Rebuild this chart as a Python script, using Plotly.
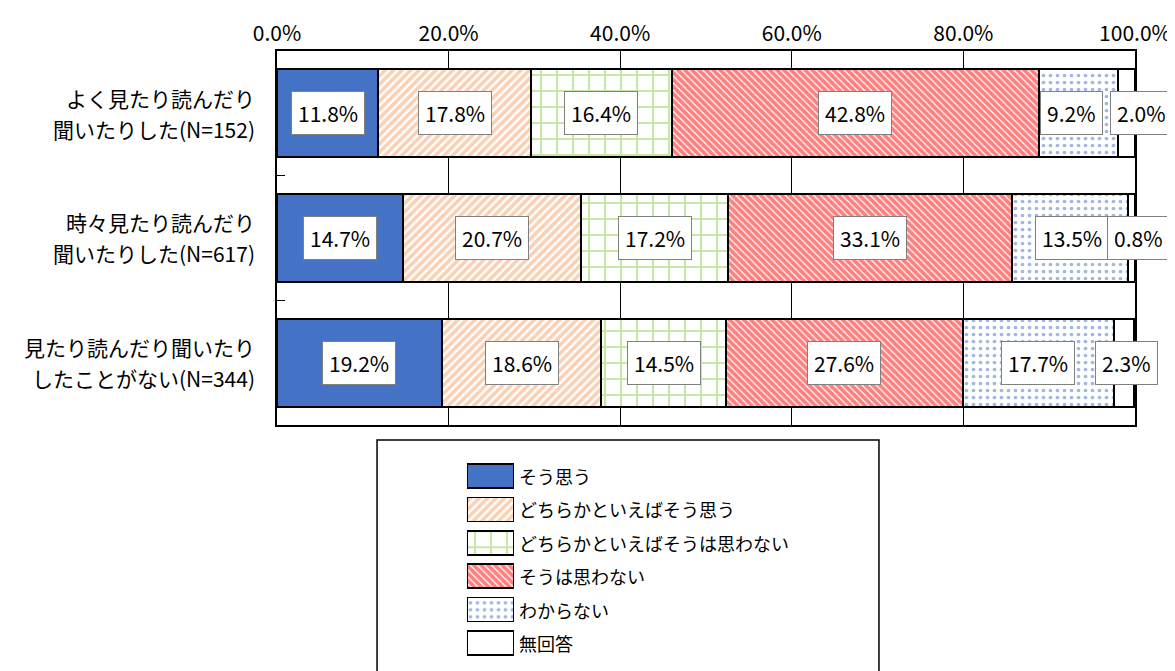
import plotly.graph_objects as go

categories = [
    "よく見たり読んだり<br>聞いたりした(N=152)",
    "時々見たり読んだり<br>聞いたりした(N=617)",
    "見たり読んだり聞いたり<br>したことがない(N=344)",
]
series_names = [
    "そう思う",
    "どちらかといえばそう思う",
    "どちらかといえばそうは思わない",
    "そうは思わない",
    "わからない",
    "無回答",
]
v_sou = [11.8, 14.7, 19.2]
v_dochira_sou = [17.8, 20.7, 18.6]
v_dochira_not = [16.4, 17.2, 14.5]
v_not = [42.8, 33.1, 27.6]
v_wakaranai = [9.2, 13.5, 17.7]
v_mukaito = [2.0, 0.8, 2.3]
tick_vals = [0, 20, 40, 60, 80, 100]
tick_labels = ["0.0%", "20.0%", "40.0%", "60.0%", "80.0%", "100.0%"]

series_values = [v_sou, v_dochira_sou, v_dochira_not, v_not, v_wakaranai, v_mukaito]

FONT = "Noto Sans CJK JP"

styles = [
    dict(color="#4472C4", pattern=None),
    dict(color="white", pattern=dict(shape="/", fgcolor="#F4A26A", bgcolor="white", size=6, solidity=0.6)),
    dict(color="white", pattern=dict(shape="+", fgcolor="#8FD050", bgcolor="white", size=16, solidity=0.25)),
    dict(color="white", pattern=dict(shape="\\", fgcolor="#FF0000", bgcolor="white", size=5, solidity=0.75)),
    dict(color="white", pattern=dict(shape=".", fgcolor="#4472C4", bgcolor="white", size=7, solidity=0.22)),
    dict(color="white", pattern=None),
]

# per-label horizontal nudges (px) for crowded labels, [series][category]
label_shift = [
    [0, 0, 0],
    [0, 0, 0],
    [0, 0, 0],
    [0, 0, 0],
    [-7, 2, 0],
    [15, 7, 2],
]

fig = go.Figure()

for name, vals, st in zip(series_names, series_values, styles):
    marker = dict(color=st["color"], line=dict(color="black", width=2))
    if st["pattern"]:
        marker["pattern"] = st["pattern"]
    fig.add_trace(go.Bar(
        x=vals, y=categories, orientation="h", name=name, marker=marker,
        width=0.705, showlegend=False, xaxis="x", yaxis="y",
    ))
    lm = dict(color=st["color"], line=dict(color="black", width=1.5))
    if st["pattern"]:
        lm["pattern"] = st["pattern"]
    fig.add_trace(go.Bar(
        x=[1], y=[name], orientation="h", name=name, marker=lm,
        width=0.72, showlegend=False, xaxis="x2", yaxis="y2", hoverinfo="skip",
    ))

annotations = []
for si, vals in enumerate(series_values):
    for ci, v in enumerate(vals):
        start = sum(series_values[k][ci] for k in range(si))
        annotations.append(dict(
            x=start + v / 2, y=categories[ci], xref="x", yref="y",
            text=f"{v:.1f}%", showarrow=False, xshift=label_shift[si][ci],
            bgcolor="white", bordercolor="#808080", borderwidth=1, borderpad=6,
            font=dict(family=FONT, size=21, color="black"),
        ))

# category labels, one annotation per line
for cat in categories:
    lines = cat.split("<br>")
    for li, line in enumerate(lines):
        annotations.append(dict(
            x=-0.0233, y=cat, xref="paper", yref="y", xanchor="right",
            text=line, showarrow=False, yshift=15.5 - 31 * li,
            font=dict(family=FONT, size=21, color="black"),
        ))

for name in series_names:
    annotations.append(dict(
        x=0.2797, y=name, xref="paper", yref="y2", xanchor="left",
        text=name, showarrow=False,
        font=dict(family=FONT, size=18, color="black"),
    ))

fig.update_layout(
    width=1167, height=663,
    margin=dict(l=269, r=40, t=43, b=5),
    barmode="stack",
    plot_bgcolor="white", paper_bgcolor="white",
    font=dict(family=FONT, size=20, color="black"),
    xaxis=dict(
        domain=[0, 1], range=[0, 100], side="top",
        tickvals=tick_vals, ticktext=tick_labels,
        showgrid=True, gridcolor="black", gridwidth=1,
        showline=True, linecolor="black", linewidth=2, mirror=True,
        ticks="", zeroline=False, anchor="y",
        tickfont=dict(family=FONT, size=21, color="black"),
    ),
    yaxis=dict(
        domain=[0.3919, 1], autorange="reversed",
        showline=True, linecolor="black", linewidth=2, mirror=True,
        ticks="inside", ticklen=8, tickcolor="black", tickwidth=1,
        tickson="boundaries", showgrid=False, anchor="x",
        showticklabels=False,
    ),
    xaxis2=dict(domain=[0.2214, 0.2762], range=[0, 1], visible=False, anchor="y2"),
    yaxis2=dict(domain=[0.0102, 0.3361], autorange="reversed", visible=False,
                anchor="x2", categoryorder="array", categoryarray=series_names),
    annotations=annotations,
    shapes=[dict(
        type="rect", xref="paper", yref="paper",
        x0=0.1166, x1=0.7016, y0=-0.05, y1=0.3675,
        line=dict(color="black", width=1.5), fillcolor="rgba(0,0,0,0)",
    )],
)

fig.write_html("out.html")
